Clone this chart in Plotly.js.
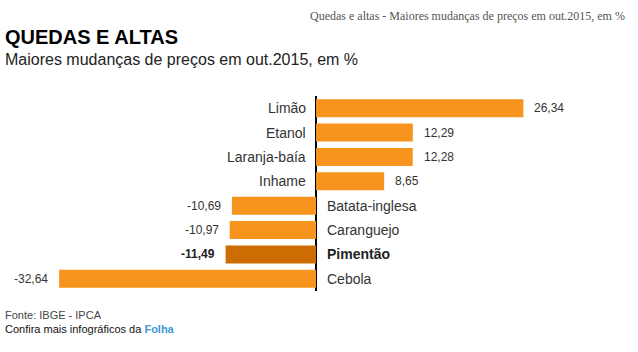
<!DOCTYPE html>
<html>
<head>
<meta charset="utf-8">
<script src="https://cdn.plot.ly/plotly-3.0.1.min.js"></script>
<style>html,body{margin:0;padding:0;background:#fff;}#chart{width:638px;height:352px;}</style>
</head>
<body>
<div id="chart"></div>
<script>
var categories = ['Limão','Etanol','Laranja-baía','Inhame','Batata-inglesa','Caranguejo','Pimentão','Cebola'];
var values = [26.34, 12.29, 12.28, 8.65, -10.69, -10.97, -11.49, -32.64];
var highlighted = ['Pimentão'];
var titleText = 'QUEDAS E ALTAS';
var subtitleText = 'Maiores mudanças de preços em out.2015, em %';
var headerText = 'Quedas e altas - Maiores mudanças de preços em out.2015, em %';
var sourceText = 'Fonte: IBGE - IPCA';

var W = 638, H = 352, T = 96, B = 61;
var plotH = H - T - B;
function py(p){ return (H - B - p) / plotH; }
function px(p){ return p / W; }

var ORANGE = '#F7941E', DARK = '#CC6C02', TXT = '#333333';
var fmt = function(v){ return v.toFixed(2).replace('.', ','); };

var colors = categories.map(function(c){ return highlighted.indexOf(c) >= 0 ? DARK : ORANGE; });

var trace = {
  type: 'bar', orientation: 'h',
  x: values, y: categories,
  marker: {color: colors},
  hoverinfo: 'none'
};

var ann = [];
categories.forEach(function(c, i){
  var v = values[i];
  var hl = highlighted.indexOf(c) >= 0;
  var pos = v >= 0;
  ann.push({xref:'x', yref:'y', x: v, y: c, text: hl ? '<b>'+fmt(v)+'</b>' : fmt(v),
    showarrow:false, xanchor: pos ? 'left' : 'right', xshift: pos ? 9 : -9,
    font:{family:'Liberation Sans, Arial, sans-serif', size:12, color: hl ? '#222' : TXT}});
  ann.push({xref:'x', yref:'y', x: 0, y: c, text: hl ? '<b>'+c+'</b>' : c,
    showarrow:false, xanchor: pos ? 'right' : 'left', xshift: pos ? -8 : 9,
    font:{family:'Liberation Sans, Arial, sans-serif', size:14, color: hl ? '#222' : TXT}});
});

ann.push({xref:'paper', yref:'paper', x: px(3), y: py(37), xanchor:'left', yanchor:'middle', showarrow:false,
  text:'<b>'+titleText+'</b>', font:{family:'Liberation Sans, Arial, sans-serif', size:20, color:'#000'}});
ann.push({xref:'paper', yref:'paper', x: px(3), y: py(59), xanchor:'left', yanchor:'middle', showarrow:false,
  text: subtitleText, font:{family:'Liberation Sans, Arial, sans-serif', size:16, color:'#222'}});
ann.push({xref:'paper', yref:'paper', x: px(627), y: py(16), xanchor:'right', yanchor:'middle', showarrow:false,
  text: headerText, font:{family:'Liberation Serif, Georgia, serif', size:12, color:'#555'}});
ann.push({xref:'paper', yref:'paper', x: px(3), y: py(315), xanchor:'left', yanchor:'middle', showarrow:false,
  text: sourceText, font:{family:'Liberation Sans, Arial, sans-serif', size:11, color:'#444'}});
ann.push({xref:'paper', yref:'paper', x: px(3), y: py(329), xanchor:'left', yanchor:'middle', showarrow:false,
  text: 'Confira mais infográficos da <b><span style="color:#3A9AD6">Folha</span></b>',
  font:{family:'Liberation Sans, Arial, sans-serif', size:11, color:'#111'}});

var layout = {
  width: W, height: H,
  margin: {l:0, r:0, t:T, b:B, pad:0},
  paper_bgcolor:'#fff', plot_bgcolor:'#fff',
  showlegend:false,
  bargap: 0.26,
  xaxis: {range:[-40.15, 40.9], showgrid:false, showticklabels:false, ticks:'',
    zeroline:true, zerolinecolor:'#000', zerolinewidth:1.5, showline:false, fixedrange:true},
  yaxis: {autorange:'reversed', showgrid:false, showticklabels:false, ticks:'', zeroline:false, showline:false, fixedrange:true},
  annotations: ann
};

Plotly.newPlot('chart', [trace], layout, {displayModeBar:false, staticPlot:true});
</script>
</body>
</html>
